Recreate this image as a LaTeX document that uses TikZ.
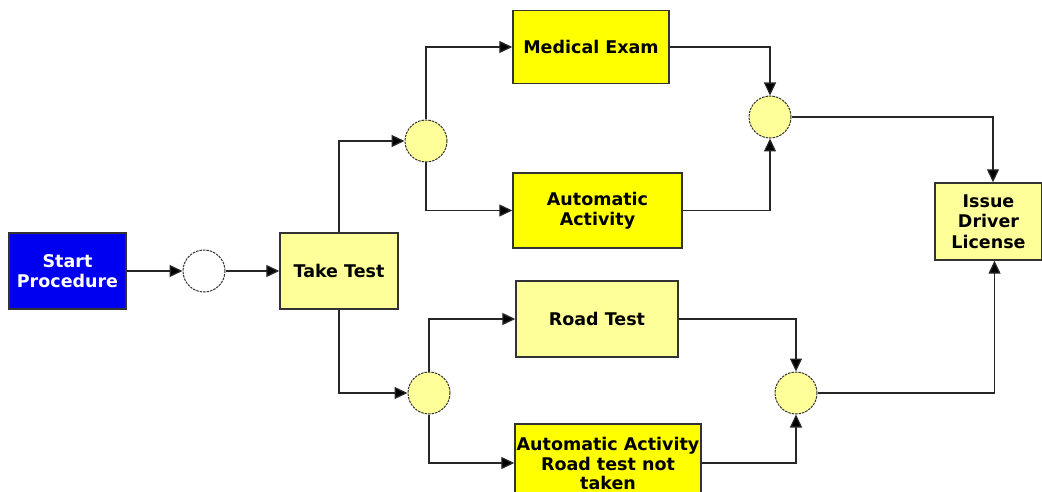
\documentclass[tikz,border=0pt]{standalone}
\usepackage{fontspec}
\setmainfont{DejaVu Sans}
\usetikzlibrary{arrows.meta}
\definecolor{lightyel}{HTML}{FFFF99}
\definecolor{brightyel}{HTML}{FFFF00}
\definecolor{startblue}{HTML}{0000F0}
\definecolor{edge}{HTML}{333333}
\begin{document}
\begin{tikzpicture}[x=1pt,y=-1pt,
  box/.style={draw=edge,line width=1.4pt,align=center,font=\fontsize{17.5}{20.5}\selectfont\bfseries,inner sep=1pt},
  lbox/.style={box,fill=lightyel},
  ybox/.style={box,fill=brightyel},
  gate/.style={circle,draw=edge,line width=1pt,dash pattern=on 2.5pt off 1pt,minimum size=42pt,inner sep=0pt},
  arr/.style={draw=black!85,line width=1.3pt,-{Triangle[length=13pt,width=12pt,fill=black]}}]
\useasboundingbox (0,0) rectangle (1042,492);
\node[box,fill=startblue,text=white,minimum width=117pt,minimum height=76pt] (start) at (67.5,271) {Start\\Procedure};
\node[gate,fill=white] (c0) at (204,271) {};
\node[lbox,minimum width=118pt,minimum height=76pt] (tt) at (339,271) {Take Test};
\node[gate,fill=lightyel] (s1) at (426,141) {};
\node[gate,fill=lightyel] (s2) at (429,393) {};
\node[ybox,minimum width=156pt,minimum height=73pt] (med) at (591,47) {Medical Exam};
\node[ybox,minimum width=169pt,minimum height=75pt] (auto1) at (597.5,210.5) {Automatic\\Activity};
\node[lbox,minimum width=162pt,minimum height=76pt] (road) at (597,319) {Road Test};
\node[ybox,minimum width=186pt,minimum height=78pt,font=\fontsize{17.5}{20}\selectfont\bfseries] (auto2) at (608,463) {Automatic Activity\\Road test not\\[-1pt]taken};
\node[gate,fill=lightyel] (j1) at (770,117) {};
\node[gate,fill=lightyel] (j2) at (796,393) {};
\node[lbox,minimum width=107pt,minimum height=77pt] (issue) at (988.5,221.5) {Issue\\Driver\\License};
\draw[arr] (start.east) -- (c0.west);
\draw[arr] (c0.east) -- (tt.west);
\draw[arr] (tt.north) |- (s1.west);
\draw[arr] (tt.south) |- (s2.west);
\draw[arr] (s1.north) |- (med.west);
\draw[arr] (s1.south) |- (auto1.west);
\draw[arr] (s2.north) |- (road.west);
\draw[arr] (s2.south) |- (auto2.west);
\draw[arr] (med.east) -| (j1.north);
\draw[arr] (auto1.east) -| (j1.south);
\draw[arr] (road.east) -| (j2.north);
\draw[arr] (auto2.east) -| (j2.south);
\draw[arr] (j1.east) -| ([xshift=4.5pt]issue.north);
\draw[arr] (j2.east) -| ([xshift=6pt]issue.south);
\end{tikzpicture}
\end{document}
